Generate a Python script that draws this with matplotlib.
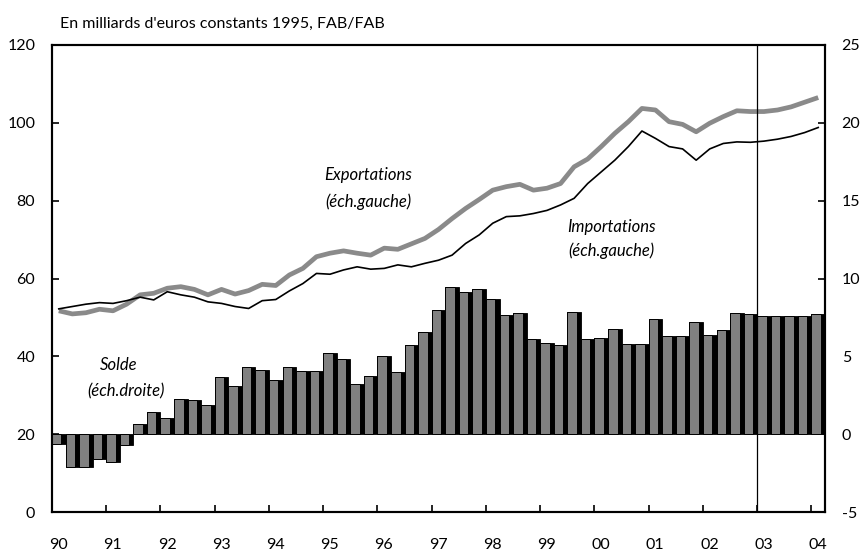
import matplotlib
matplotlib.use("Agg")
import matplotlib.pyplot as plt
import numpy as np

plt.rcParams['font.family'] = ['Lato', 'DejaVu Sans']

# Quarterly data 1990Q1 .. 2004Q1
exportations = [51.7, 50.9, 51.2, 52.1, 51.7, 53.4, 55.8, 56.2, 57.5, 57.9,
                57.2, 55.8, 57.2, 56.0, 56.9, 58.5, 58.2, 60.9, 62.6, 65.6,
                66.5, 67.1, 66.5, 66.0, 67.8, 67.5, 68.9, 70.3, 72.6, 75.4,
                78.0, 80.3, 82.7, 83.6, 84.2, 82.7, 83.2, 84.4, 88.7, 90.7,
                93.9, 97.3, 100.3, 103.7, 103.3, 100.3, 99.6, 97.7, 99.9, 101.6,
                103.1, 102.9, 102.9, 103.3, 104.1, 105.3, 106.5]
importations = [52.2, 52.8, 53.4, 53.8, 53.6, 54.3, 55.2, 54.5, 56.6, 55.8,
                55.2, 54.0, 53.6, 52.8, 52.3, 54.3, 54.6, 56.8, 58.7, 61.3,
                61.1, 62.2, 63.0, 62.4, 62.6, 63.5, 63.0, 63.9, 64.7, 66.0,
                69.0, 71.2, 74.2, 75.9, 76.1, 76.7, 77.5, 78.9, 80.6, 84.4,
                87.4, 90.4, 93.9, 97.9, 96.0, 93.9, 93.3, 90.4, 93.3, 94.7,
                95.1, 95.0, 95.3, 95.8, 96.5, 97.5, 98.8]
solde = [-0.62, -2.14, -2.14, -1.6, -1.82, -0.7, 0.64, 1.45, 1.02, 2.24,
         2.18, 1.88, 3.67, 3.1, 4.3, 4.1, 3.46, 4.3, 4.04, 4.04,
         5.2, 4.83, 3.2, 3.74, 5.0, 3.97, 5.73, 6.54, 7.96, 9.47,
         9.15, 9.3, 8.66, 7.63, 7.76, 6.09, 5.84, 5.71, 7.83, 6.09,
         6.16, 6.74, 5.77, 5.77, 7.38, 6.29, 6.29, 7.19, 6.35, 6.69,
         7.76, 7.7, 7.57, 7.61, 7.61, 7.61, 7.7]
start_year = 1990
year_labels = ['90', '91', '92', '93', '94', '95', '96', '97', '98', '99',
               '00', '01', '02', '03', '04']
left_ticks = [0, 20, 40, 60, 80, 100, 120]
right_ticks = [-5, 0, 5, 10, 15, 20, 25]
forecast_start = 2003

n = len(solde)
slot = 0.25
starts = start_year + np.arange(n) * slot
centers = starts + slot / 2

fig = plt.figure(figsize=(8.64, 5.54), dpi=100)
ax = fig.add_axes([52/864, 1 - 512/554, (825-52)/864, (512-45)/554])
ax2 = ax.twinx()

# bars (right scale) with dark shadow on the right
ax2.bar(starts, solde, width=slot, align='edge', color='black', edgecolor='black',
        linewidth=0.6, zorder=2)
ax2.bar(starts, solde, width=slot*0.70, align='edge', color='#808080',
        edgecolor='black', linewidth=0.7, zorder=3)

# lines (left scale)
ax.plot(centers, exportations, color='#8a8a8a', lw=3.4, solid_capstyle='butt', zorder=4)
ax.plot(centers, importations, color='black', lw=1.2, zorder=5)
ax.set_zorder(ax2.get_zorder() + 1)
ax.patch.set_visible(False)

ax.axvline(forecast_start, color='black', lw=0.9, zorder=6)

ax.set_xlim(start_year, start_year + n * slot)
ax.set_ylim(left_ticks[0], left_ticks[-1])
ax2.set_ylim(right_ticks[0], right_ticks[-1])

years = start_year + np.arange(len(year_labels))
ax.set_xticks(years[1:])
ax.set_xticklabels([])
ax.set_xticks(years + 0.12, year_labels, minor=True)
ax.tick_params(axis='x', which='major', direction='in', length=5, width=1.2)
ax.tick_params(axis='x', which='minor', length=0, pad=19, labelsize=11.5)

ax.set_yticks(left_ticks)
ax.set_yticklabels([str(v) for v in left_ticks])
ax.tick_params(axis='y', direction='in', length=5, width=1.2, pad=12, labelsize=11.5)
ax2.set_yticks(right_ticks)
ax2.set_yticklabels([str(v) for v in right_ticks])
ax2.tick_params(axis='y', direction='in', length=5, width=1.2, pad=12, labelsize=11.5)

for a in (ax, ax2):
    for s in a.spines.values():
        s.set_linewidth(1.5)

def xpos(px):
    return start_year + (px - 52) / 54.2

def ypos(py):
    return (512 - py) / 3.892

ax.text(xpos(60), ypos(24), "En milliards d'euros constants 1995, FAB/FAB",
        fontsize=11.5, ha='left', va='center', clip_on=False)

kw = dict(style='italic', fontsize=12, ha='center', va='center')
ax.text(xpos(368), ypos(175), 'Exportations', **kw)
ax.text(xpos(368), ypos(202), '(éch.gauche)', **kw)
ax.text(xpos(611), ypos(227), 'Importations', **kw)
ax.text(xpos(611), ypos(251), '(éch.gauche)', **kw)
ax.text(xpos(119), ypos(365), 'Solde', **kw)
ax.text(xpos(126), ypos(391), '(éch.droite)', **kw)

fig.savefig('out.png', dpi=100)
